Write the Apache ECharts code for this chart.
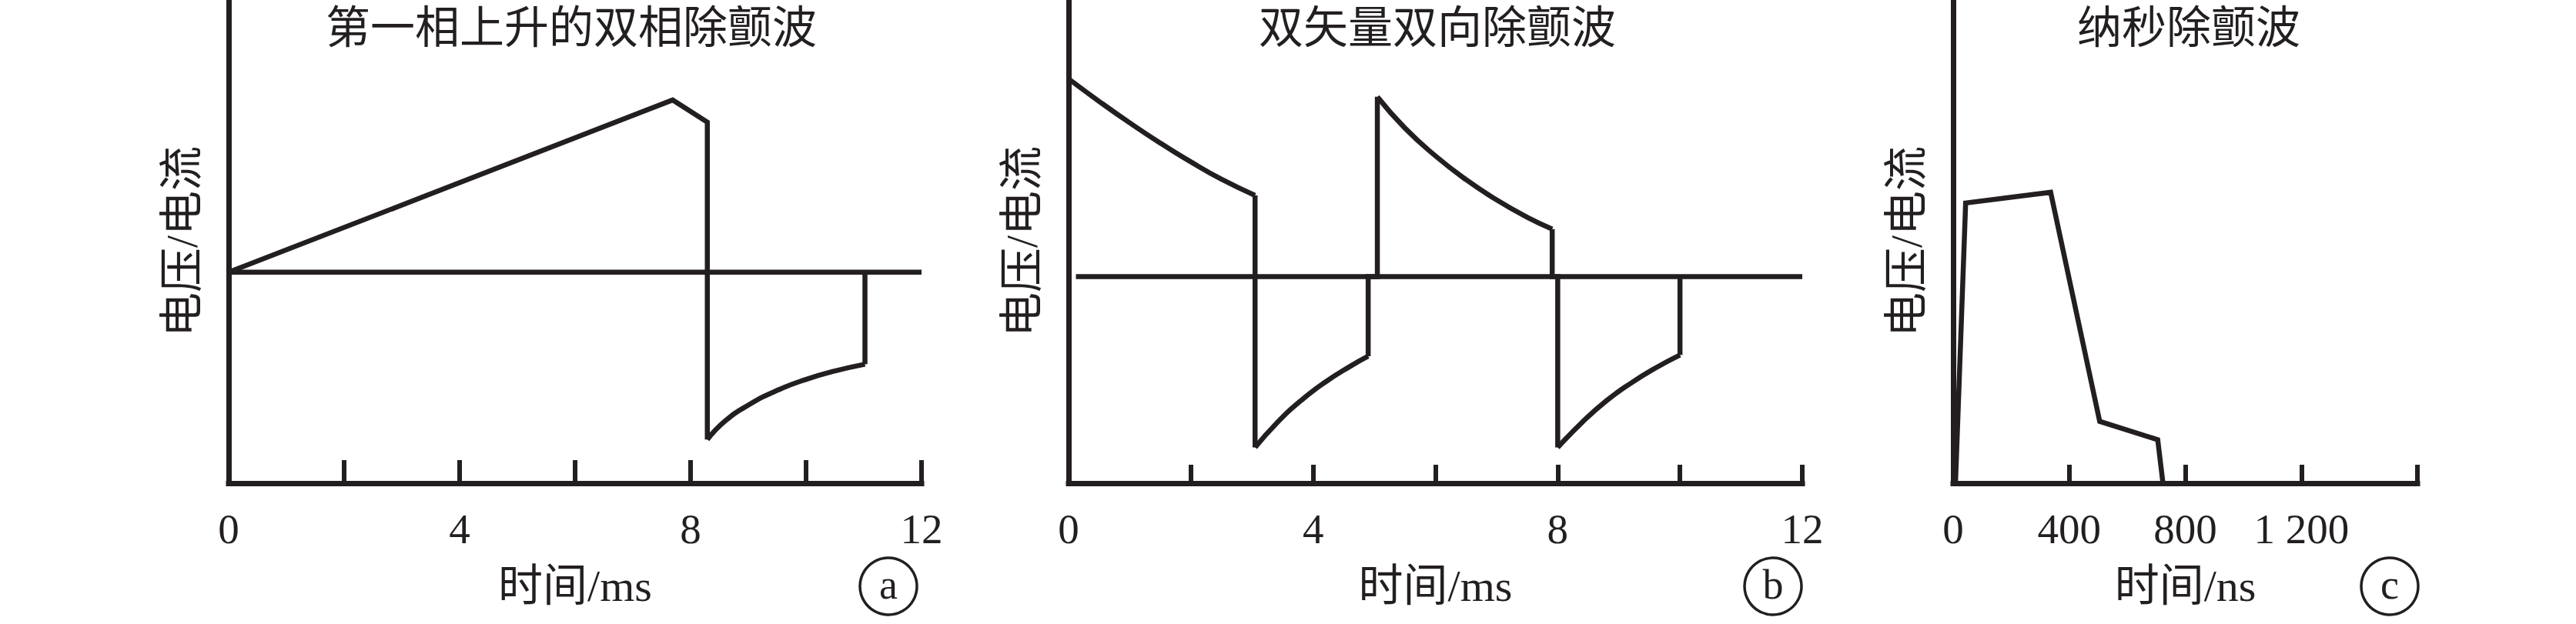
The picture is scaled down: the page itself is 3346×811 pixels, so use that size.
<!DOCTYPE html>
<html>
<head>
<meta charset="utf-8">
<script src="https://cdn.jsdelivr.net/npm/echarts@6/dist/echarts.min.js"></script>
<style>
html,body{margin:0;padding:0;background:#fff;}
#c{width:3346px;height:811px;}
</style>
</head>
<body>
<div id="c"></div>
<script>
// ---------- data ----------
const panelTitles = ['第一相上升的双相除颤波', '双矢量双向除颤波', '纳秒除颤波'];
const xNames = ['时间/ms', '时间/ms', '时间/ns'];
const yName = '电压/电流';
const panelTags = ['a', 'b', 'c'];

const msLabelValues = [0, 4, 8, 12];
const msLabelTexts = ['0', '4', '8', '12'];
const nsLabelValues = [0, 400, 800, 1200];
const nsLabelTexts = ['0', '400', '800', '1 200'];

// panel a (ms)
const aZero = [[0, 0], [12, 0]];
const aRamp = [[0, 0], [7.69, 8.16], [8.29, 7.11], [8.29, -7.93]];
const aDecay = [[8.29, -7.93], [8.6, -7.05], [9.0, -6.3], [9.5, -5.6], [10.0, -5.08], [10.5, -4.68], [11.02, -4.36]];
const aReturn = [[11.02, -4.36], [11.02, 0]];

// panel b (ms)
const bZero = [[0.12, 0], [12, 0]];
const bPulse1 = [[0, 9.58], [0.5, 8.49], [1.0, 7.45], [1.5, 6.47], [2.0, 5.56], [2.5, 4.72], [3.05, 3.94]];
const bEdge1 = [[3.05, 3.94], [3.05, -8.27]];
const bNeg1 = [[3.05, -8.27], [3.4, -7.1], [3.8, -6.0], [4.2, -5.1], [4.6, -4.35], [4.9, -3.85]];
const bEdge2 = [[4.9, -3.85], [4.9, 0], [5.05, 0], [5.05, 8.71]];
const bPulse2 = [[5.05, 8.71], [5.5, 7.2], [6.0, 5.85], [6.5, 4.7], [7.0, 3.72], [7.5, 2.88], [7.91, 2.31]];
const bEdge3 = [[7.91, 2.31], [7.91, 0], [8.0, 0], [8.0, -8.27]];
const bNeg2 = [[8.0, -8.27], [8.4, -7.05], [8.8, -6.0], [9.2, -5.15], [9.6, -4.42], [10.0, -3.79]];
const bEdge4 = [[10.0, -3.79], [10.0, 0]];

// panel c (ns)
const cPulse = [[8, 0], [43, 58.0], [336, 60.2], [505, 12.8], [705, 9.0], [723, 0]];

// ---------- layout / style ----------
const INK = '#231f20';
const SERIF = '"Liberation Serif", "Noto Sans CJK SC", serif';
const grids = [
  { left: 297, top: 0, width: 900, height: 628 },
  { left: 1388, top: 0, width: 953, height: 628 },
  { left: 2537, top: 0, width: 603, height: 628 }
];
const titleCenters = [737, 1862, 2838];
const xRanges = [[0, 12, 2], [0, 12, 2], [0, 1600, 400]];
const yRanges = [[-10, 12.9], [-10, 13.4], [0, 100]];
const tickLens = [30, 24, 24];

function labelFmt(vals, texts) {
  return function (v) {
    const i = vals.indexOf(Math.round(v * 1000) / 1000);
    return i >= 0 ? texts[i] : '';
  };
}
const fmts = [labelFmt(msLabelValues, msLabelTexts), labelFmt(msLabelValues, msLabelTexts), labelFmt(nsLabelValues, nsLabelTexts)];

const xAxis = grids.map((g, i) => ({
  gridIndex: i, type: 'value',
  min: xRanges[i][0], max: xRanges[i][1], interval: xRanges[i][2],
  axisLine: { show: true, onZero: false, lineStyle: { color: INK, width: 7, cap: 'square' } },
  axisTick: { show: true, inside: true, length: tickLens[i], lineStyle: { color: INK, width: 6 } },
  axisLabel: { show: true, formatter: fmts[i], color: INK, fontSize: 55, fontFamily: SERIF, margin: 32 },
  splitLine: { show: false },
  name: xNames[i], nameLocation: 'middle', nameGap: 104,
  nameTextStyle: { color: INK, fontSize: 58, fontFamily: SERIF }
}));

const yAxis = grids.map((g, i) => ({
  gridIndex: i, type: 'value',
  min: yRanges[i][0], max: yRanges[i][1],
  axisLine: { show: true, onZero: false, lineStyle: { color: INK, width: 7 } },
  axisTick: { show: false }, axisLabel: { show: false }, splitLine: { show: false },
  name: yName, nameLocation: 'middle', nameGap: 32, nameRotate: 90,
  nameTextStyle: { color: INK, fontSize: 58, fontFamily: SERIF }
}));

function seg(data, gi, smooth) {
  return {
    type: 'line', xAxisIndex: gi, yAxisIndex: gi, data: data,
    showSymbol: false, symbol: 'none', smooth: smooth ? 0.5 : false,
    clip: false, silent: true, animation: false,
    lineStyle: { color: INK, width: 6.5, join: 'miter', cap: 'butt' }
  };
}

const series = [
  seg(aZero, 0, false), seg(aRamp, 0, false), seg(aDecay, 0, true), seg(aReturn, 0, false),
  seg(bZero, 1, false), seg(bPulse1, 1, true), seg(bEdge1, 1, false), seg(bNeg1, 1, true),
  seg(bEdge2, 1, false), seg(bPulse2, 1, true), seg(bEdge3, 1, false), seg(bNeg2, 1, true), seg(bEdge4, 1, false),
  seg(cPulse, 2, false)
];

const titles = grids.map((g, i) => ({
  text: panelTitles[i], left: titleCenters[i], top: 2, textAlign: 'center',
  textStyle: { color: INK, fontSize: 58, fontWeight: 'normal', fontFamily: SERIF }
}));

const tagCenters = [[1154, 762], [2303, 762], [3104, 762]];
const graphic = [];
tagCenters.forEach((c, i) => {
  graphic.push({ type: 'circle', shape: { cx: c[0], cy: c[1], r: 37 }, style: { fill: 'none', stroke: INK, lineWidth: 3.5 }, silent: true });
  graphic.push({ type: 'text', x: c[0], y: c[1] - 2, style: { text: panelTags[i], font: '54px "Liberation Serif", serif', fill: INK, align: 'center', verticalAlign: 'middle', textAlign: 'center', textVerticalAlign: 'middle' }, silent: true });
});

const chart = echarts.init(document.getElementById('c'), null, { renderer: 'svg', width: 3346, height: 811 });
chart.setOption({
  backgroundColor: '#ffffff',
  animation: false,
  title: titles,
  grid: grids,
  xAxis: xAxis,
  yAxis: yAxis,
  series: series,
  graphic: graphic
});
</script>
</body>
</html>
